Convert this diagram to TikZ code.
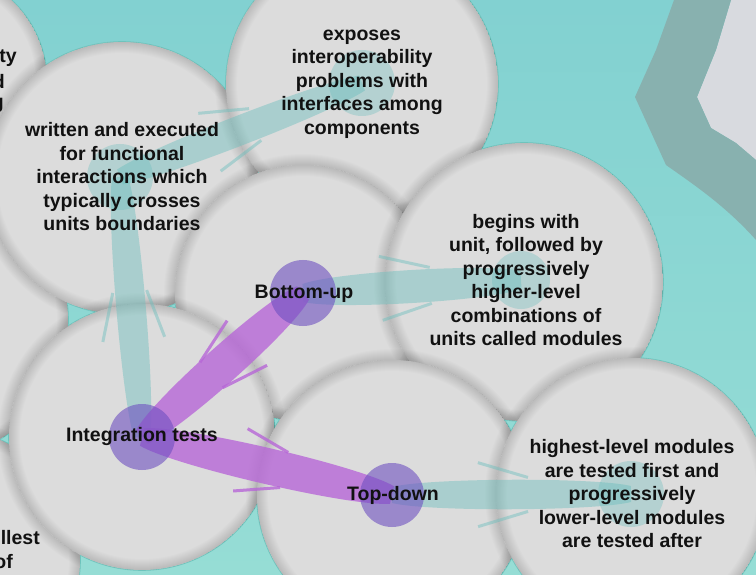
\documentclass[tikz,border=0pt]{standalone}
\usepackage{fontspec}
\setmainfont{Liberation Sans}
\usetikzlibrary{calc}
\definecolor{bgtop}{HTML}{82D1D1}
\definecolor{bgbot}{HTML}{96DDD5}
\definecolor{bandgray}{HTML}{88B1AF}
\definecolor{sky}{HTML}{D8DADF}
\definecolor{bub}{HTML}{DCDCDC}
\definecolor{bubedge}{HTML}{6EC3BC}
\definecolor{tealc}{RGB}{107,191,189}
\definecolor{purc}{RGB}{183,103,215}
\definecolor{pdotc}{RGB}{110,80,193}
\definecolor{ink}{HTML}{111111}

\tikzset{
  txt/.style={font=\bfseries\fontsize{19.5}{23.5}\selectfont, align=center, inner sep=0pt, text=ink},
  tband/.style={fill=tealc, fill opacity=0.45},
  pband/.style={fill=purc, fill opacity=0.8},
  tfeather/.style={draw=tealc, draw opacity=0.45, line width=3pt},
  pfeather/.style={draw=purc, draw opacity=0.8, line width=3pt},
  tdot/.style={circle, fill=tealc, fill opacity=0.35, minimum size=66pt, inner sep=0pt},
  pdot/.style={circle, fill=pdotc, fill opacity=0.6, minimum size=66pt, inner sep=0pt},
}

% leaf-shaped connector: from, to, end half-width, bulge, style
\newcommand\leaf[5]{%
  \fill[#5] ($(#1)!#3!90:(#2)$) .. controls ($(#1)!0.15!(#2)!#4!90:(#2)$) and ($(#1)!0.85!(#2)!#4!90:(#2)$) .. ($(#2)!#3!-90:(#1)$)
     -- ($(#2)!#3!90:(#1)$) .. controls ($(#1)!0.85!(#2)!#4!-90:(#2)$) and ($(#1)!0.15!(#2)!#4!-90:(#2)$) .. ($(#1)!#3!-90:(#2)$) -- cycle;}
% feathers: from, to, along1, along2, off1, off2, style
\newcommand\feathers[7]{%
  \draw[#7] ($(#1)!#3!(#2)!#5!90:(#2)$) -- ($(#1)!#4!(#2)!#6!90:(#2)$);
  \draw[#7] ($(#1)!#3!(#2)!#5!-90:(#2)$) -- ($(#1)!#4!(#2)!#6!-90:(#2)$);}
% soft dark ring on a circle
\newcommand\softring[2]{%
  \foreach \w in {2,4,...,22}
    \draw[black, opacity=0.011, line width=\w pt] (#1) circle[radius=#2];}
% bubble with soft inner shadow
\newcommand\bub[2]{%
  \begin{scope}
    \clip (#1) circle[radius=#2];
    \fill[bub] (#1) circle[radius=#2];
    \softring{#1}{#2}
  \end{scope}}
% seam shadow of a bubble cast on the bubbles already drawn: centre, radius, clip path
\newcommand\seam[3]{%
  \begin{scope}
    \clip #3;
    \softring{#1}{#2}
  \end{scope}}

\begin{document}
\begin{tikzpicture}[x=1pt,y=-1pt]
\useasboundingbox (0,0) rectangle (756,575);
\begin{scope}
\clip (0,0) rectangle (756,575);
% background
\shade[top color=bgtop, bottom color=bgbot] (0,0) rectangle (756,575);
\fill[sky] (731,0) -- (716,50) -- (697,97) -- (711,128) -- (736,143) -- (756,160) -- (756,0) -- cycle;
\fill[bandgray] (674,0) -- (656,50) -- (635,97) -- (666,165)
   .. controls (690,182) and (725,205) .. (756,240) -- (756,160) -- (736,143) -- (711,128)
   -- (697,97) -- (716,50) -- (731,0) -- cycle;

% bubble centres
\coordinate (c1) at (-65,82);
\coordinate (c2) at (-70,320);
\coordinate (c3) at (-50,560);
\coordinate (cW) at (122,178);
\coordinate (cE) at (362,84);
\coordinate (cB) at (303,293);
\coordinate (cG) at (524,282);
\coordinate (cI) at (142,437);
\coordinate (cT) at (392,495);
\coordinate (cH) at (632,494);

% outer teal rim
\foreach \c/\r in {c1/112,c2/138,c3/130,cW/136,cE/136,cB/128,cG/139,cI/133,cT/135,cH/136}
  \draw[bubedge, line width=1.6pt] (\c) circle[radius=\r pt];

% bubbles, each casting a soft seam on the ones below
\bub{c1}{112pt}
\seam{c2}{138pt}{(c1) circle[radius=112pt]}
\bub{c2}{138pt}
\seam{c3}{130pt}{(c1) circle[radius=112pt] (c2) circle[radius=138pt]}
\bub{c3}{130pt}
\seam{cW}{136pt}{(c1) circle[radius=112pt] (c2) circle[radius=138pt] (c3) circle[radius=130pt]}
\bub{cW}{136pt}
\seam{cE}{136pt}{(cW) circle[radius=136pt]}
\bub{cE}{136pt}
\seam{cB}{128pt}{(cW) circle[radius=136pt] (cE) circle[radius=136pt]}
\bub{cB}{128pt}
\seam{cG}{139pt}{(cE) circle[radius=136pt] (cB) circle[radius=128pt]}
\bub{cG}{139pt}
\seam{cI}{133pt}{(c2) circle[radius=138pt] (c3) circle[radius=130pt] (cW) circle[radius=136pt] (cB) circle[radius=128pt]}
\bub{cI}{133pt}
\seam{cT}{135pt}{(cB) circle[radius=128pt] (cG) circle[radius=139pt] (cI) circle[radius=133pt]}
\bub{cT}{135pt}
\seam{cH}{136pt}{(cG) circle[radius=139pt] (cT) circle[radius=135pt]}
\bub{cH}{136pt}
\end{scope}

% connector anchor points (dot centres)
\coordinate (I) at (142,437);
\coordinate (B) at (303,293);
\coordinate (T) at (392,495);
\coordinate (W) at (120,177);
\coordinate (E) at (362,83);
\coordinate (G) at (521,280);
\coordinate (H) at (631,494);

% teal connectors
\leaf{W}{E}{8pt}{17pt}{tband}
\feathers{W}{E}{96pt}{145pt}{31pt}{17pt}{tfeather}
\leaf{I}{W}{8pt}{17pt}{tband}
\feathers{I}{W}{98pt}{146pt}{31pt}{17pt}{tfeather}
\leaf{B}{G}{9pt}{19pt}{tband}
\feathers{B}{G}{78pt}{128pt}{32pt}{18pt}{tfeather}
\leaf{T}{H}{8pt}{17pt}{tband}
\feathers{T}{H}{86pt}{136pt}{32pt}{17pt}{tfeather}
% purple connectors
\leaf{I}{B}{9pt}{21pt}{pband}
\feathers{B}{I}{75pt}{123pt}{30pt}{17pt}{pfeather}
\leaf{I}{T}{9pt}{21pt}{pband}
\feathers{I}{T}{101pt}{146pt}{32pt}{18pt}{pfeather}

% dots
\node[tdot] (Wdot) at (W) {};
\node[tdot] (Edot) at (E) {};
\node[tdot, minimum size=58pt] (Gdot) at (G) {};
\node[tdot] (Hdot) at (H) {};
\node[pdot] (Idot) at (I) {};
\node[pdot] (Bdot) at (B) {};
\node[pdot, minimum size=64pt] (Tdot) at (T) {};

% texts
\node[txt] (Wt) at (122,177) {written and executed\\for functional\\interactions which\\typically crosses\\units boundaries};
\node[txt] (Et) at (362,84) {exposes\\interoperability\\problems with\\interfaces among\\components};
\node[txt] (Gt) at (526,280) {begins with\\unit, followed by\\progressively\\higher-level\\combinations of\\units called modules};
\node[txt] (Ht) at (632,494) {highest-level modules\\are tested first and\\progressively\\lower-level modules\\are tested after};
\node[txt] (Bt) at (304,294) {Bottom-up};
\node[txt] (It) at (142,437) {Integration tests};
\node[txt] (Tt) at (393,495) {Top-down};
\node[txt, anchor=east] (p1) at (17,58) {ty};
\node[txt, anchor=east] (p2) at (5,82) {d};
\node[txt, anchor=east] (p3) at (4,105) {g};
\node[txt, anchor=east] (p4) at (40,538) {llest};
\node[txt, anchor=east] (p5) at (13,562) {of};
\end{tikzpicture}
\end{document}
